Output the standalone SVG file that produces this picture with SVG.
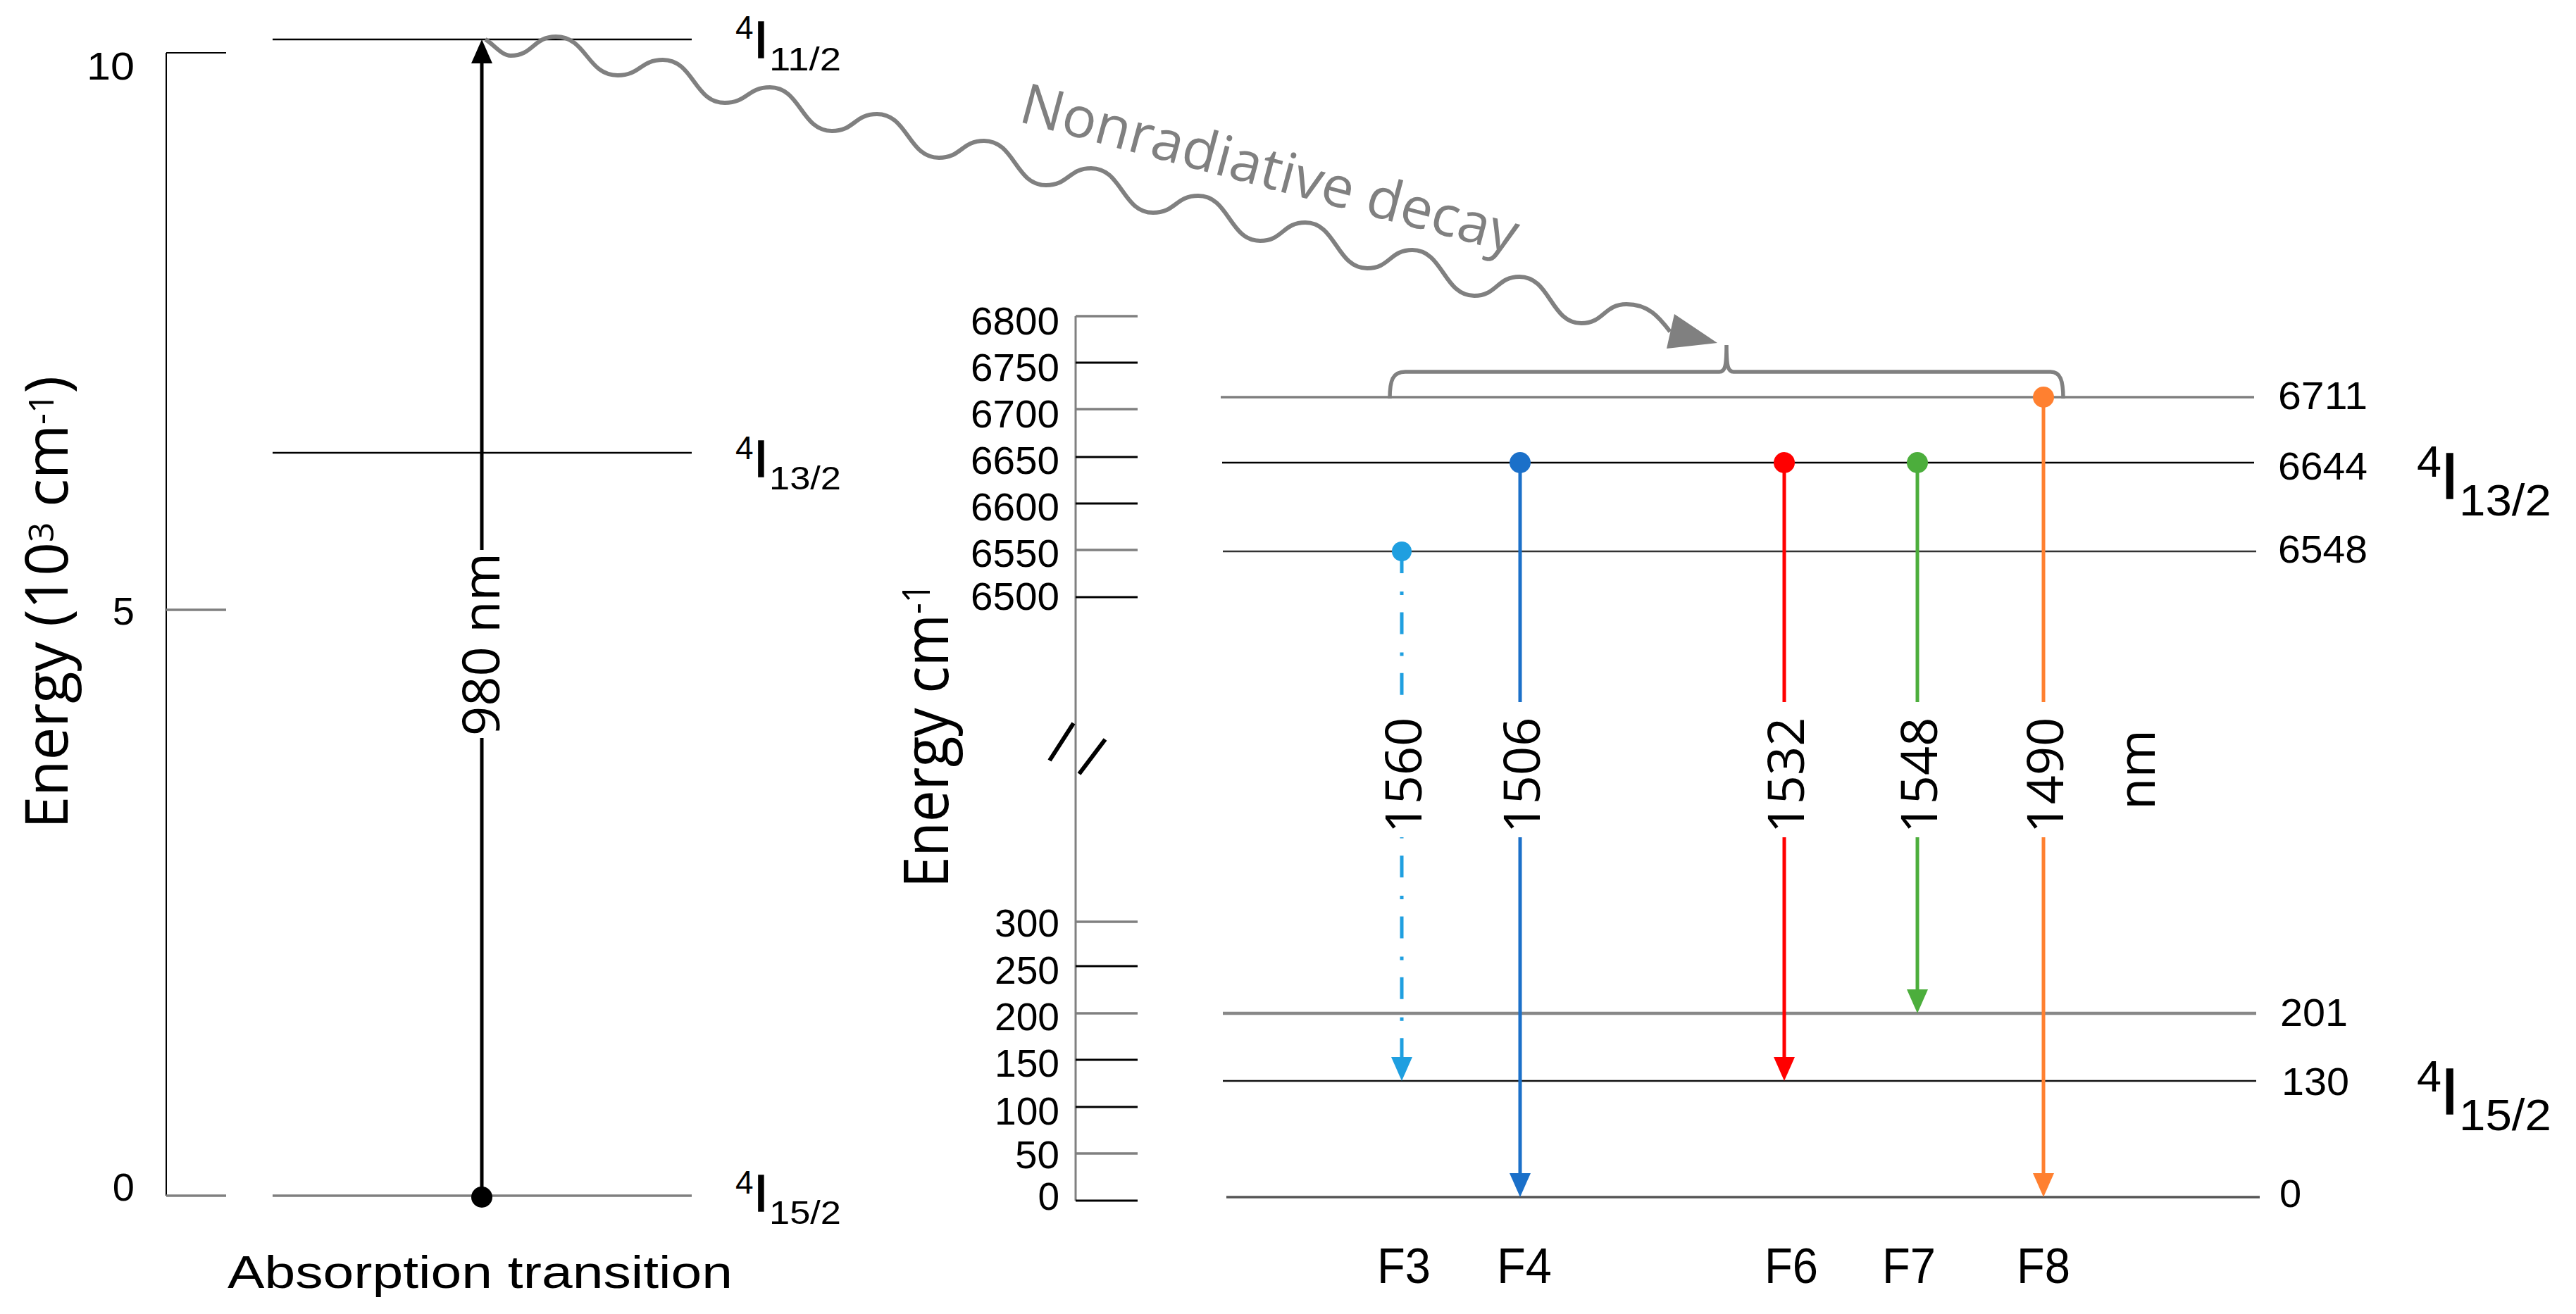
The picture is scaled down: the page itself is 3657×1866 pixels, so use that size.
<svg xmlns="http://www.w3.org/2000/svg" width="3657" height="1866" viewBox="0 0 3657 1866">
<defs>
<style>
.ax{stroke:#000;stroke-width:2;fill:none}
.axg{stroke:#808080;stroke-width:3;fill:none}
.tk{stroke:#000;stroke-width:3}
.tkg{stroke:#808080;stroke-width:3.5}
.lv{stroke:#000;stroke-width:2.5;fill:none}
.lvg{stroke:#7f7f7f;stroke-width:3.5;fill:none}
.num{font-family:"Liberation Sans",Arial,sans-serif;font-size:55px;fill:#000}
.val{font-family:"Liberation Sans",Arial,sans-serif;font-size:56px;fill:#000}
.lab{font-family:"Liberation Sans",Arial,sans-serif;fill:#000}
.os{font-family:"Open Sans","Liberation Sans",Arial,sans-serif;fill:#000}
.istem{stroke:#000;stroke-width:1.5}
.tr{fill:none;stroke-width:5}
</style>
<marker id="ah-k" markerUnits="userSpaceOnUse" markerWidth="34" markerHeight="30" viewBox="0 0 34 30" refX="22" refY="15" orient="auto"><path d="M0,0 L34,15 L0,30 z" fill="#000"/></marker>
<marker id="ah-f3" markerUnits="userSpaceOnUse" markerWidth="34" markerHeight="30" viewBox="0 0 34 30" refX="22" refY="15" orient="auto"><path d="M0,0 L34,15 L0,30 z" fill="#1f9fe0"/></marker>
<marker id="ah-f4" markerUnits="userSpaceOnUse" markerWidth="34" markerHeight="30" viewBox="0 0 34 30" refX="22" refY="15" orient="auto"><path d="M0,0 L34,15 L0,30 z" fill="#1b70c9"/></marker>
<marker id="ah-f6" markerUnits="userSpaceOnUse" markerWidth="34" markerHeight="30" viewBox="0 0 34 30" refX="22" refY="15" orient="auto"><path d="M0,0 L34,15 L0,30 z" fill="#ff0000"/></marker>
<marker id="ah-f7" markerUnits="userSpaceOnUse" markerWidth="34" markerHeight="30" viewBox="0 0 34 30" refX="22" refY="15" orient="auto"><path d="M0,0 L34,15 L0,30 z" fill="#4cae3c"/></marker>
<marker id="ah-f8" markerUnits="userSpaceOnUse" markerWidth="34" markerHeight="30" viewBox="0 0 34 30" refX="22" refY="15" orient="auto"><path d="M0,0 L34,15 L0,30 z" fill="#ff8030"/></marker>
</defs>
<rect x="0" y="0" width="3657" height="1866" fill="#fff"/>

<!-- LEFT DIAGRAM -->
<g id="left-axis">
<line class="ax" x1="236" y1="75" x2="236" y2="1698"/>
<line class="ax" x1="236" y1="75" x2="321" y2="75"/>
<line class="tkg" x1="236" y1="866" x2="321" y2="866"/>
<line class="tkg" x1="236" y1="1698" x2="321" y2="1698"/>
<text class="lab" font-size="56" x="191" y="113" text-anchor="end" textLength="68" lengthAdjust="spacingAndGlyphs">10</text>
<text class="lab" font-size="56" x="191" y="887" text-anchor="end">5</text>
<text class="lab" font-size="56" x="191" y="1705" text-anchor="end">0</text>
<text class="os" font-size="84" transform="translate(96,1177) rotate(-90)" textLength="643" lengthAdjust="spacingAndGlyphs">Energy (10<tspan font-size="50" dy="-20">3</tspan><tspan dy="20"> cm</tspan><tspan font-size="50" dy="-20">-1</tspan><tspan dy="20">)</tspan></text>
</g>

<g id="level-left-4I11-2">
<line class="lv" x1="387" y1="56" x2="982" y2="56"/>
<text class="lab" font-size="46" x="1044" y="55">4</text>
<text class="lab istem" font-size="75" x="1070" y="82">I</text>
<text class="lab" font-size="46" x="1092" y="100" textLength="102" lengthAdjust="spacingAndGlyphs">11/2</text>
</g>
<g id="level-left-4I13-2">
<line class="lv" x1="387" y1="643" x2="982" y2="643"/>
<text class="lab" font-size="46" x="1044" y="652">4</text>
<text class="lab istem" font-size="75" x="1070" y="677">I</text>
<text class="lab" font-size="46" x="1092" y="695" textLength="102" lengthAdjust="spacingAndGlyphs">13/2</text>
</g>
<g id="level-left-4I15-2">
<line class="lvg" x1="387" y1="1698" x2="982" y2="1698"/>
<text class="lab" font-size="46" x="1044" y="1695">4</text>
<text class="lab istem" font-size="75" x="1070" y="1720">I</text>
<text class="lab" font-size="46" x="1092" y="1738" textLength="102" lengthAdjust="spacingAndGlyphs">15/2</text>
</g>
<g id="label-absorption">
<text class="lab" font-size="64" x="323" y="1829" textLength="717" lengthAdjust="spacingAndGlyphs">Absorption transition</text>
</g>

<!-- RIGHT DIAGRAM -->
<g id="right-axis">
<line class="axg" x1="1527" y1="449" x2="1527" y2="1705"/>
<line class="tkg" x1="1527" y1="449" x2="1615" y2="449"/>
<line class="tk" x1="1527" y1="515" x2="1615" y2="515"/>
<line class="tkg" x1="1527" y1="581" x2="1615" y2="581"/>
<line class="tk" x1="1527" y1="649" x2="1615" y2="649"/>
<line class="tk" x1="1527" y1="715" x2="1615" y2="715"/>
<line class="tkg" x1="1527" y1="781" x2="1615" y2="781"/>
<line class="tk" x1="1527" y1="848" x2="1615" y2="848"/>
<line class="tkg" x1="1527" y1="1309" x2="1615" y2="1309"/>
<line class="tk" x1="1527" y1="1372" x2="1615" y2="1372"/>
<line class="tkg" x1="1527" y1="1439" x2="1615" y2="1439"/>
<line class="tk" x1="1527" y1="1505" x2="1615" y2="1505"/>
<line class="tk" x1="1527" y1="1572" x2="1615" y2="1572"/>
<line class="tkg" x1="1527" y1="1638" x2="1615" y2="1638"/>
<line class="tk" x1="1527" y1="1705" x2="1615" y2="1705"/>
<g class="num" text-anchor="end">
<text x="1504" y="475" textLength="126" lengthAdjust="spacingAndGlyphs">6800</text>
<text x="1504" y="541" textLength="126" lengthAdjust="spacingAndGlyphs">6750</text>
<text x="1504" y="607" textLength="126" lengthAdjust="spacingAndGlyphs">6700</text>
<text x="1504" y="673" textLength="126" lengthAdjust="spacingAndGlyphs">6650</text>
<text x="1504" y="739" textLength="126" lengthAdjust="spacingAndGlyphs">6600</text>
<text x="1504" y="805" textLength="126" lengthAdjust="spacingAndGlyphs">6550</text>
<text x="1504" y="866" textLength="126" lengthAdjust="spacingAndGlyphs">6500</text>
<text x="1504" y="1330" textLength="92" lengthAdjust="spacingAndGlyphs">300</text>
<text x="1504" y="1397" textLength="92" lengthAdjust="spacingAndGlyphs">250</text>
<text x="1504" y="1463" textLength="92" lengthAdjust="spacingAndGlyphs">200</text>
<text x="1504" y="1529" textLength="92" lengthAdjust="spacingAndGlyphs">150</text>
<text x="1504" y="1597" textLength="92" lengthAdjust="spacingAndGlyphs">100</text>
<text x="1504" y="1659" textLength="63" lengthAdjust="spacingAndGlyphs">50</text>
<text x="1504" y="1718">0</text>
</g>
<path d="M1490,1080 L1524,1027 M1532,1099 L1569,1050" stroke="#000" stroke-width="6" fill="none"/>
<text class="os" font-size="88" transform="translate(1346,1261) rotate(-90)" textLength="433" lengthAdjust="spacingAndGlyphs">Energy cm<tspan font-size="54" dy="-26">-1</tspan></text>
</g>

<g id="level-6711">
<line class="lvg" x1="1733" y1="564" x2="3200" y2="564"/>
<text class="val" x="3234" y="581" textLength="127" lengthAdjust="spacingAndGlyphs">6711</text>
</g>
<g id="level-6644">
<line class="lv" x1="1735" y1="657" x2="3200" y2="657"/>
<text class="val" x="3234" y="681" textLength="127" lengthAdjust="spacingAndGlyphs">6644</text>
</g>
<g id="level-6548">
<line x1="1736" y1="783" x2="3203" y2="783" stroke="#333" stroke-width="2.5"/>
<text class="val" x="3234" y="799" textLength="127" lengthAdjust="spacingAndGlyphs">6548</text>
</g>
<g id="level-201">
<line x1="1736" y1="1439" x2="3203" y2="1439" stroke="#888" stroke-width="4.5"/>
<text class="val" x="3237" y="1457" textLength="96" lengthAdjust="spacingAndGlyphs">201</text>
</g>
<g id="level-130">
<line x1="1736" y1="1535" x2="3203" y2="1535" stroke="#111" stroke-width="2.5"/>
<text class="val" x="3239" y="1555" textLength="96" lengthAdjust="spacingAndGlyphs">130</text>
</g>
<g id="level-0">
<line x1="1741" y1="1700" x2="3208" y2="1700" stroke="#555" stroke-width="3.5"/>
<text class="val" x="3236" y="1714">0</text>
</g>
<g id="manifold-4I13-2">
<text class="lab" font-size="63" x="3431" y="677">4</text>
<text class="lab istem" font-size="92" x="3465" y="708">I</text>
<text class="lab" font-size="63" x="3491" y="732" textLength="131" lengthAdjust="spacingAndGlyphs">13/2</text>
</g>
<g id="manifold-4I15-2">
<text class="lab" font-size="63" x="3431" y="1550">4</text>
<text class="lab istem" font-size="92" x="3465" y="1582">I</text>
<text class="lab" font-size="63" x="3491" y="1605" textLength="131" lengthAdjust="spacingAndGlyphs">15/2</text>
</g>
<g id="brace">
<path d="M1973,566 C1973,540 1977,528 1995,528 L2441,528 C2449,528 2451,520 2451,490 C2451,520 2453,528 2461,528 L2911,528 C2925,528 2929,540 2929,566" fill="none" stroke="#808080" stroke-width="5.5"/>
</g>
<g id="f-labels" class="lab" font-size="71">
<text x="1955" y="1822" textLength="76" lengthAdjust="spacingAndGlyphs">F3</text>
<text x="2125" y="1822" textLength="78" lengthAdjust="spacingAndGlyphs">F4</text>
<text x="2505" y="1822" textLength="76" lengthAdjust="spacingAndGlyphs">F6</text>
<text x="2672" y="1822" textLength="76" lengthAdjust="spacingAndGlyphs">F7</text>
<text x="2863" y="1822" textLength="76" lengthAdjust="spacingAndGlyphs">F8</text>
</g>
<g id="nm-unit">
<text class="os" font-size="74" transform="translate(3059,1093) rotate(-90)" text-anchor="middle">nm</text>
</g>

<!-- CONNECTORS -->
<g id="connectors">
<g id="absorption-980">
<path d="M684,1700 V1048 M684,781 V68" stroke="#000" class="tr" marker-end="url(#ah-k)"/>
<circle cx="684" cy="1700" r="15" fill="#000"/>
<text class="os" font-size="74" transform="translate(709,915) rotate(-90)" text-anchor="middle">980 nm</text>
</g>
<g id="nonradiative-decay">
<path d="M689,56 C700,62 712,79 725,79 C757,79 757,52 789,52 C833,52 833,107 877,107 C909,107 909,85 941,85 C985,85 985,146 1029,146 C1061,146 1061,124 1093,124 C1137,124 1137,186 1181,186 C1213,186 1213,162 1245,162 C1289,162 1289,224 1333,224 C1365,224 1365,200 1397,200 C1441,200 1441,263 1485,263 C1517,263 1517,239 1549,239 C1593,239 1593,302 1637,302 C1669,302 1669,278 1701,278 C1745,278 1745,342 1789,342 C1821,342 1821,316 1853,316 C1897,316 1897,381 1941,381 C1973,381 1973,355 2005,355 C2049,355 2049,420 2093,420 C2125,420 2125,393 2157,393 C2201,393 2201,459 2245,459 C2277,459 2277,432 2309,432 C2340,432 2355,450 2371,471" fill="none" stroke="#808080" stroke-width="6"/>
<polygon points="2377,446 2438,487 2366,495" fill="#808080"/>
<text class="os" font-size="80" style="fill:#808080" transform="translate(1444,172) rotate(15)" textLength="728" lengthAdjust="spacingAndGlyphs">Nonradiative decay</text>
</g>
<g id="F3">
<path d="M1990,783 V997" stroke="#1f9fe0" class="tr" stroke-dasharray="31 26 5 24.4"/>
<path d="M1990,1189 V1523" stroke="#1f9fe0" class="tr" stroke-dasharray="31 26 5 24.4" stroke-dashoffset="60.4" marker-end="url(#ah-f3)"/>
<circle cx="1990" cy="783" r="14" fill="#1f9fe0"/>
<text class="os" font-size="72" transform="translate(2018,1101) rotate(-90)" text-anchor="middle">1560</text>
</g>
<g id="F4">
<path d="M2158,657 V997 M2158,1189 V1688" stroke="#1b70c9" class="tr" marker-end="url(#ah-f4)"/>
<circle cx="2158" cy="657" r="15" fill="#1b70c9"/>
<text class="os" font-size="72" transform="translate(2186,1101) rotate(-90)" text-anchor="middle">1506</text>
</g>
<g id="F6">
<path d="M2533,657 V997 M2533,1189 V1523" stroke="#ff0000" class="tr" marker-end="url(#ah-f6)"/>
<circle cx="2533" cy="657" r="15" fill="#ff0000"/>
<text class="os" font-size="72" transform="translate(2561,1101) rotate(-90)" text-anchor="middle">1532</text>
</g>
<g id="F7">
<path d="M2722,657 V997 M2722,1189 V1427" stroke="#4cae3c" class="tr" marker-end="url(#ah-f7)"/>
<circle cx="2722" cy="657" r="15" fill="#4cae3c"/>
<text class="os" font-size="72" transform="translate(2750,1101) rotate(-90)" text-anchor="middle">1548</text>
</g>
<g id="F8">
<path d="M2901,564 V997 M2901,1189 V1688" stroke="#ff8030" class="tr" stroke-width="4" marker-end="url(#ah-f8)"/>
<circle cx="2901" cy="564" r="15" fill="#ff8030"/>
<text class="os" font-size="72" transform="translate(2929,1101) rotate(-90)" text-anchor="middle">1490</text>
</g>
</g>
</svg>
